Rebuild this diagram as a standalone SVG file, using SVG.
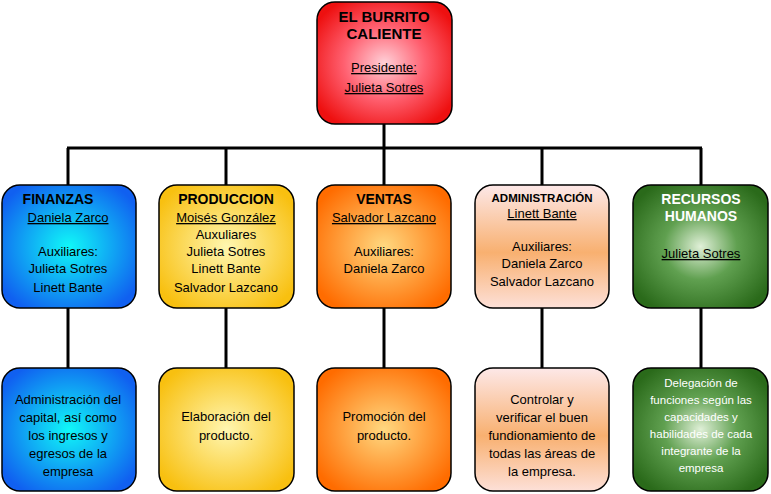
<svg xmlns="http://www.w3.org/2000/svg" width="771" height="494" viewBox="0 0 771 494">
<defs>
<radialGradient id="gR" cx="50%" cy="50%" r="60%"><stop offset="0" stop-color="#ffd0d8"/><stop offset="0.5" stop-color="#ff6070"/><stop offset="1" stop-color="#ee1010"/></radialGradient>
<radialGradient id="gB" cx="50%" cy="50%" r="60%"><stop offset="0" stop-color="#10f8f8"/><stop offset="1" stop-color="#1060f0"/></radialGradient>
<radialGradient id="gY" cx="50%" cy="50%" r="60%"><stop offset="0" stop-color="#fff6b0"/><stop offset="1" stop-color="#f8c010"/></radialGradient>
<radialGradient id="gO" cx="50%" cy="50%" r="60%"><stop offset="0" stop-color="#ffd880"/><stop offset="1" stop-color="#ff6c00"/></radialGradient>
<linearGradient id="gP" x1="0" y1="0" x2="0" y2="1"><stop offset="0" stop-color="#fde8e8"/><stop offset="0.55" stop-color="#f8b070"/><stop offset="1" stop-color="#fde0d8"/></linearGradient>
<radialGradient id="gG" cx="50%" cy="50%" r="60%"><stop offset="0" stop-color="#e0f0d8"/><stop offset="0.45" stop-color="#60a050"/><stop offset="1" stop-color="#2a6a1a"/></radialGradient>
</defs>
<style>
.b{stroke:#000;stroke-width:1.5}
text{font-family:"Liberation Sans",Arial,sans-serif;font-size:13px;text-anchor:middle;fill:#000}
.h{font-weight:bold;font-size:14px}
.u{text-decoration:underline}
.w{fill:#fff;font-size:11.5px}
.c line{stroke:#000;stroke-width:3}
</style>
<g class="c" id="connectors">
<line x1="384" y1="124" x2="384" y2="148"/>
<line x1="67" y1="148" x2="702" y2="148"/>
<line x1="68" y1="148" x2="68" y2="185"/>
<line x1="226" y1="148" x2="226" y2="185"/>
<line x1="384" y1="148" x2="384" y2="185"/>
<line x1="542" y1="148" x2="542" y2="185"/>
<line x1="701" y1="148" x2="701" y2="185"/>
<line x1="68" y1="308" x2="68" y2="368"/>
<line x1="226" y1="308" x2="226" y2="368"/>
<line x1="384" y1="308" x2="384" y2="368"/>
<line x1="542" y1="308" x2="542" y2="368"/>
<line x1="701" y1="308" x2="701" y2="368"/>
</g>
<g id="top"><rect class="b" x="317" y="2" width="135" height="122" rx="18" fill="url(#gR)"/>
<text class="h" x="384" y="22" style="font-size:15px">EL BURRITO</text><text class="h" x="384" y="39" style="font-size:15px">CALIENTE</text>
<text class="u" x="384" y="72">Presidente:</text><text class="u" x="384" y="92">Julieta Sotres</text></g>
<g id="finanzas"><rect class="b" x="2" y="185" width="134" height="123" rx="18" fill="url(#gB)"/>
<text class="h" x="58" y="204">FINANZAS</text><text class="u" x="68" y="222">Daniela Zarco</text>
<text x="68" y="256">Auxiliares:</text><text x="68" y="273">Julieta Sotres</text><text x="68" y="292">Linett Bante</text></g>
<g id="produccion"><rect class="b" x="159" y="185" width="135" height="123" rx="18" fill="url(#gY)"/>
<text class="h" x="226" y="204">PRODUCCION</text><text class="u" x="226" y="222">Moisés González</text>
<text x="226" y="239">Auxuliares</text><text x="226" y="256">Julieta Sotres</text><text x="226" y="273">Linett Bante</text><text x="226" y="292">Salvador Lazcano</text></g>
<g id="ventas"><rect class="b" x="317" y="185" width="134" height="123" rx="18" fill="url(#gO)"/>
<text class="h" x="384" y="204">VENTAS</text><text class="u" x="384" y="222">Salvador Lazcano</text>
<text x="384" y="256">Auxiliares:</text><text x="384" y="273">Daniela Zarco</text></g>
<g id="admin"><rect class="b" x="475" y="185" width="134" height="123" rx="18" fill="url(#gP)"/>
<text class="h" x="542" y="202" style="font-size:11.5px">ADMINISTRACIÓN</text><text class="u" x="542" y="218">Linett Bante</text>
<text x="542" y="251">Auxiliares:</text><text x="542" y="268">Daniela Zarco</text><text x="542" y="286">Salvador Lazcano</text></g>
<g id="rh"><rect class="b" x="633" y="185" width="135" height="123" rx="18" fill="url(#gG)"/>
<text class="h" x="701" y="204" style="fill:#fff">RECURSOS</text><text class="h" x="701" y="221" style="fill:#fff">HUMANOS</text>
<text class="u" x="701" y="258">Julieta Sotres</text></g>
<g id="d1"><rect class="b" x="2" y="368" width="134" height="123" rx="18" fill="url(#gB)"/>
<text x="68" y="404">Administración del</text><text x="68" y="422">capital, así como</text><text x="68" y="440">los ingresos y</text><text x="68" y="458">egresos de  la</text><text x="68" y="476">empresa</text></g>
<g id="d2"><rect class="b" x="159" y="368" width="135" height="123" rx="18" fill="url(#gY)"/>
<text x="226" y="421">Elaboración del</text><text x="226" y="440">producto.</text></g>
<g id="d3"><rect class="b" x="317" y="368" width="134" height="123" rx="18" fill="url(#gO)"/>
<text x="384" y="421">Promoción del</text><text x="384" y="440">producto.</text></g>
<g id="d4"><rect class="b" x="475" y="368" width="134" height="123" rx="18" fill="url(#gP)"/>
<text x="542" y="404">Controlar y</text><text x="542" y="422">verificar el buen</text><text x="542" y="440">fundionamiento de</text><text x="542" y="458">todas las áreas de</text><text x="542" y="476">la empresa.</text></g>
<g id="d5"><rect class="b" x="633" y="368" width="135" height="123" rx="18" fill="url(#gG)"/>
<text class="w" x="701" y="387">Delegación de</text><text class="w" x="701" y="404">funciones según las</text><text class="w" x="701" y="421">capacidades y</text><text class="w" x="701" y="438">habilidades de cada</text><text class="w" x="701" y="455">integrante de la</text><text class="w" x="701" y="472">empresa</text></g>
</svg>
